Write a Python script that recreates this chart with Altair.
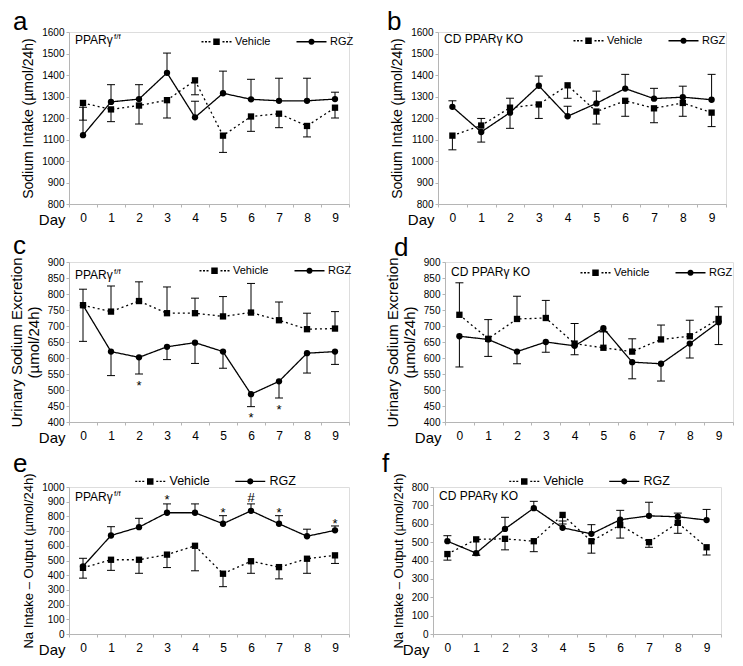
import altair as alt
import pandas as pd

DAYS = [str(d) for d in range(10)]
SERIES = ["Vehicle", "RGZ"]

# ---- values ----
a_veh = [1270, 1240, 1258, 1283, 1375, 1118, 1207, 1220, 1163, 1248]
a_veh_end = [1190, 1183, 1172, 1200, 1308, 1040, 1138, 1155, 1112, 1200]
a_rgz = [1120, 1275, 1288, 1410, 1203, 1315, 1287, 1280, 1280, 1288]
a_rgz_end = [1250, 1355, 1355, 1502, 1278, 1418, 1380, 1385, 1385, 1320]

b_veh = [1118, 1165, 1248, 1263, 1352, 1230, 1280, 1245, 1270, 1225]
b_veh_end = [1052, 1198, 1292, 1198, 1292, 1172, 1208, 1178, 1208, 1160]
b_rgz = [1252, 1135, 1225, 1350, 1208, 1268, 1337, 1290, 1297, 1285]
b_rgz_end = [1280, 1088, 1152, 1395, 1255, 1325, 1403, 1338, 1348, 1403]

c_veh = [765, 745, 778, 740, 740, 730, 742, 718, 690, 692]
c_veh_end = [815, 825, 838, 822, 787, 792, 833, 775, 740, 745]
c_rgz = [765, 620, 602, 635, 648, 620, 487, 527, 615, 620]
c_rgz_end = [652, 545, 550, 595, 583, 568, 448, 475, 553, 580]

d_veh = [735, 660, 722, 725, 645, 632, 620, 658, 668, 722]
d_veh_end = [835, 720, 793, 780, 708, 682, 660, 703, 718, 760]
d_rgz = [668, 658, 620, 650, 638, 693, 587, 582, 645, 712]
d_rgz_end = [572, 605, 582, 618, 610, 682, 535, 528, 600, 642]

e_veh = [450, 505, 505, 540, 600, 410, 495, 455, 512, 535]
e_veh_end = [380, 433, 413, 452, 430, 322, 413, 375, 413, 480]
e_rgz = [460, 670, 727, 825, 825, 750, 838, 750, 665, 705]
e_rgz_end = [515, 730, 787, 885, 885, 805, 885, 805, 713, 735]

f_veh = [435, 515, 518, 505, 648, 505, 593, 500, 605, 472]
f_veh_end = [402, 430, 458, 448, 598, 440, 522, 472, 548, 430]
f_rgz = [505, 440, 572, 685, 578, 545, 622, 643, 638, 620]
f_rgz_end = [535, 428, 635, 722, 615, 595, 673, 717, 658, 678]

c_sig_days = ["2", "6", "7"]
c_sig_vals = [512, 412, 437]
c_sig_text = ["*", "*", "*"]

e_sig_days = ["3", "5", "6", "7", "9"]
e_sig_vals = [910, 825, 928, 825, 748]
e_sig_text = ["*", "*", "#", "*", "*"]

FONT = "Liberation Sans"


def rect(x0, x1, h):
    return f"M{x0},{-h}L{x1},{-h}L{x1},{h}L{x0},{h}Z"


# legend glyphs built only from filled shapes: dotted line + square,
# solid line + round dot
VEH_PATH = "".join(rect(x0, x0 + 0.4, 0.13)
                   for x0 in [-3.0, -2.3, -1.6, 1.2, 1.9, 2.6]) + \
    "M-0.65,-0.65L0.65,-0.65L0.65,0.65L-0.65,0.65Z"
RGZ_PATH = rect(-3, 3, 0.13) + \
    ("M0.62,0L0.54,0.31L0.31,0.54L0,0.62L-0.31,0.54L-0.54,0.31L-0.62,0"
     "L-0.54,-0.31L-0.31,-0.54L0,-0.62L0.31,-0.54L0.54,-0.31Z")


def panel(letter, veh, veh_end, rgz, rgz_end, ydom, ystep, ytitle, ytfs,
          label, sup, leg_x, leg_y, leg_fs, width, height, letter_dx,
          letter_dy, lab_dy, sig=None):
    rows = []
    for i, d in enumerate(DAYS):
        rows.append({"day": d, "series": "Vehicle", "value": veh[i], "end": veh_end[i]})
        rows.append({"day": d, "series": "RGZ", "value": rgz[i], "end": rgz_end[i]})
    df = pd.DataFrame(rows)

    x = alt.X("day:O", sort=DAYS,
              scale=alt.Scale(type="band", paddingInner=0, paddingOuter=0),
              axis=alt.Axis(labelAngle=0, tickBand="extent", title="Day",
                            titleAngle=0, titleAlign="right", titleBaseline="middle",
                            titleX=-4, titleY=15, titleFontSize=15,
                            titleFontWeight="normal", titleFont=FONT,
                            labelFont=FONT, labelFontSize=12, labelPadding=5,
                            domainColor="#b5b5b5", tickColor="#b5b5b5",
                            tickSize=3, labelColor="black", titleColor="black"))
    yscale = alt.Scale(domain=ydom, nice=False, zero=False)
    yaxis = alt.Axis(values=list(range(ydom[0], ydom[1] + 1, ystep)),
                     format="d", labelOverlap=False,
                     grid=False, title=ytitle, titleFontSize=ytfs,
                     titleFontWeight="normal", titleFont=FONT,
                     labelFont=FONT, labelFontSize=10, labelPadding=2,
                     titlePadding=6, domainColor="#b5b5b5",
                     tickColor="#b5b5b5", tickSize=3,
                     labelColor="black", titleColor="black")
    y = alt.Y("value:Q", scale=yscale, axis=yaxis)
    y_end = alt.Y("end:Q", scale=yscale, axis=yaxis)

    base = alt.Chart(df)
    lines = base.mark_line(color="black", strokeWidth=1.3).encode(
        x=x, y=y,
        strokeDash=alt.StrokeDash("series:N",
                                  scale=alt.Scale(domain=SERIES, range=[[2, 3], [1, 0]]),
                                  legend=None),
        detail="series:N")
    bars = base.mark_rule(color="black", strokeWidth=1).encode(
        x=x, y=y, y2="end:Q")
    caps = base.mark_tick(color="black", thickness=1, size=8, opacity=1).encode(
        x=x, y=y_end)
    pts = base.mark_point(filled=True, color="black", opacity=1, size=40).encode(
        x=x, y=y,
        shape=alt.Shape("series:N",
                        scale=alt.Scale(domain=SERIES, range=["square", "circle"]),
                        legend=None))
    legend_layer = base.transform_filter("false").mark_point(
        filled=True, color="black", opacity=1
    ).encode(
        x=x, y=y,
        shape=alt.Shape("series:N",
                        scale=alt.Scale(domain=SERIES, range=[VEH_PATH, RGZ_PATH]),
                        legend=alt.Legend(orient="none", legendX=leg_x, legendY=leg_y,
                                          direction="horizontal", title=None,
                                          symbolSize=100, labelOffset=13,
                                          columnPadding=25, labelFontSize=leg_fs,
                                          labelFont=FONT, labelColor="black",
                                          symbolFillColor="black",
                                          symbolStrokeWidth=0, symbolOpacity=1)))

    lab_df = pd.DataFrame({"t": [label]})
    lab = alt.Chart(lab_df).mark_text(align="left", baseline="top", fontSize=12,
                                      font=FONT, color="black").encode(
        x=alt.value(6), y=alt.value(lab_dy), text="t:N")
    layers = [lines, bars, caps, pts, legend_layer, lab]
    if sup:
        sup_df = pd.DataFrame({"t": [sup]})
        layers.append(alt.Chart(sup_df).mark_text(
            align="left", baseline="top", fontSize=8, font=FONT, color="black"
        ).encode(x=alt.value(45), y=alt.value(lab_dy - 2), text="t:N"))
    let_df = pd.DataFrame({"t": [letter]})
    layers.append(alt.Chart(let_df).mark_text(
        align="left", baseline="middle", fontSize=26, font=FONT, color="black"
    ).encode(x=alt.value(letter_dx), y=alt.value(letter_dy), text="t:N"))
    if sig is not None:
        sdays, svals, stext = sig
        sdf = pd.DataFrame({"day": sdays, "value": svals, "t": stext})
        layers.append(alt.Chart(sdf).mark_text(
            baseline="middle", fontSize=13, font=FONT, color="black"
        ).encode(x=x, y=y, text="t:N"))

    return alt.layer(*layers).resolve_scale(shape="independent").properties(
        width=width, height=height)


WL, WR = 280, 288
H1, H2, H3 = 172, 160, 147

pa = panel("a", a_veh, a_veh_end, a_rgz, a_rgz_end, [800, 1600], 100,
           "Sodium Intake (µmol/24h)", 14, "PPARγ", "f/f", 142, 4, 11,
           WL, H1, -56, -10, 3)
pb = panel("b", b_veh, b_veh_end, b_rgz, b_rgz_end, [800, 1600], 100,
           "Sodium Intake (µmol/24h)", 14, "CD PPARγ KO", None, 145, 3, 11,
           WR, H1, -51, -10, 2)
pc = panel("c", c_veh, c_veh_end, c_rgz, c_rgz_end, [400, 900], 50,
           ["Urinary Sodium Excretion", "(µmol/24h)"], 15, "PPARγ", "f/f",
           140, 3, 11, WL, H2, -56, -16, 8,
           sig=(c_sig_days, c_sig_vals, c_sig_text))
pd_ = panel("d", d_veh, d_veh_end, d_rgz, d_rgz_end, [400, 900], 50,
            ["Urinary Sodium Excretion", "(µmol/24h)"], 15, "CD PPARγ KO", None,
            145, 5, 11, WR, H2, -51, -14, 5)
pe = panel("e", e_veh, e_veh_end, e_rgz, e_rgz_end, [0, 1000], 100,
           "Na Intake – Output (µmol/24h)", 13, "PPARγ", "f/f",
           75, -12, 12.5, WL, H3, -56, -23, 5,
           sig=(e_sig_days, e_sig_vals, e_sig_text))
pf = panel("f", f_veh, f_veh_end, f_rgz, f_rgz_end, [0, 800], 100,
           "Na Intake – Output (µmol/24h)", 13, "CD PPARγ KO", None,
           85, -12, 12.5, WR, H3, -51, -23, 4)

chart = alt.vconcat(
    alt.hconcat(pa, pb, spacing=31),
    alt.hconcat(pc, pd_, spacing=31),
    alt.hconcat(pe, pf, spacing=31),
    spacing=4,
).properties(padding=0).configure_view(stroke=None).configure(font=FONT)

chart.save("out.html", embed_options={"renderer": "svg", "actions": False})
